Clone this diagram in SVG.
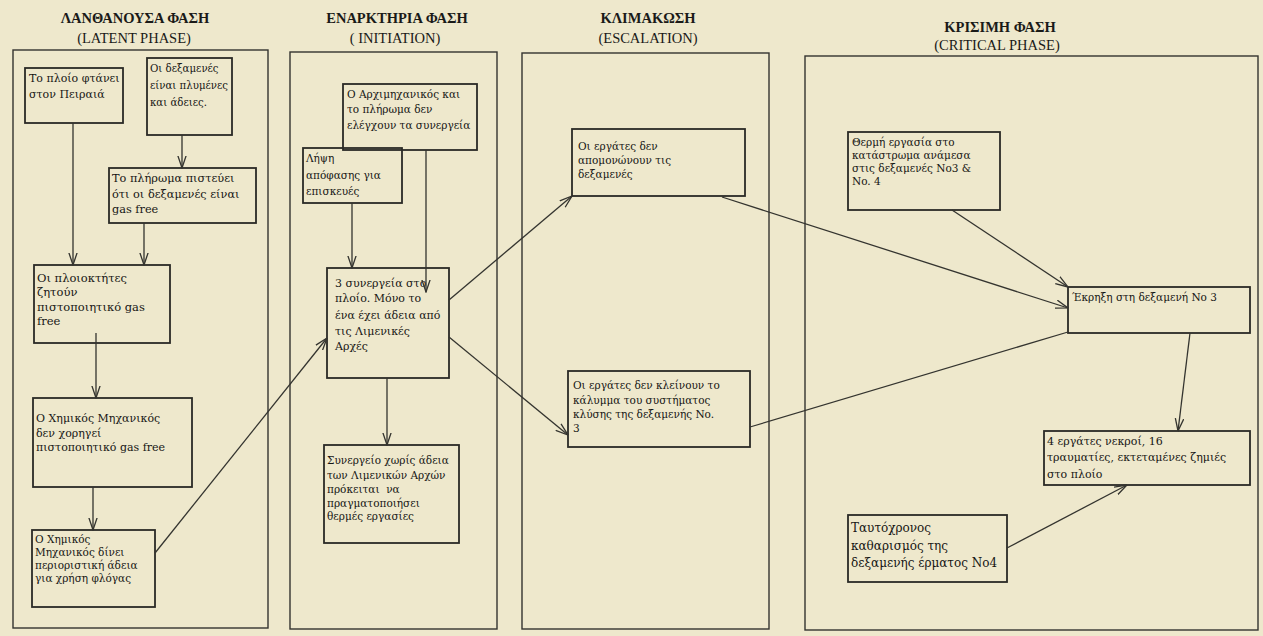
<svg xmlns="http://www.w3.org/2000/svg" width="1263" height="636" viewBox="0 0 1263 636">
  <defs>
    <style>
      .bg { fill: #eee8cc; }
      .col { fill: none; stroke: #34342f; stroke-width: 1.4; }
      .box { fill: none; stroke: #2a2a26; stroke-width: 1.8; }
      .hd { font-family: "Liberation Serif", serif; font-size: 14.5px; font-weight: bold; fill: #1a1a18; text-anchor: middle; }
      .hs { font-family: "Liberation Serif", serif; font-size: 14.5px; fill: #1a1a18; text-anchor: middle; }
      .t { font-family: "DejaVu Serif", serif; font-size: 10.5px; fill: #161614; white-space: pre; }
      .link { fill: none; stroke: #34342f; stroke-width: 1.3; }
      .arr { marker-end: url(#head); }
    </style>
    <marker id="head" viewBox="0 0 13 10" refX="12.5" refY="5" markerWidth="13" markerHeight="10" orient="auto" markerUnits="userSpaceOnUse">
      <path d="M0,0.8 L12.5,5 L0,9.2" fill="none" stroke="#34342f" stroke-width="1.3"/>
    </marker>
  </defs>

  <rect class="bg" x="0" y="0" width="1263" height="636"/>

  <!-- phase columns -->
  <g id="phase-latent">
    <text class="hd" x="135" y="23">ΛΑΝΘΑΝΟΥΣΑ ΦΑΣΗ</text>
    <text class="hs" x="134" y="43">(LATENT PHASE)</text>
    <rect class="col" x="13" y="50" width="255" height="578"/>
  </g>
  <g id="phase-initiation">
    <text class="hd" x="397" y="23">ΕΝΑΡΚΤΗΡΙΑ ΦΑΣΗ</text>
    <text class="hs" x="395" y="43">( INITIATION)</text>
    <rect class="col" x="290" y="52" width="207" height="577"/>
  </g>
  <g id="phase-escalation">
    <text class="hd" x="648" y="23">ΚΛΙΜΑΚΩΣΗ</text>
    <text class="hs" x="648" y="43">(ESCALATION)</text>
    <rect class="col" x="522" y="53" width="247" height="576"/>
  </g>
  <g id="phase-critical">
    <text class="hd" x="1000" y="32">ΚΡΙΣΙΜΗ ΦΑΣΗ</text>
    <text class="hs" x="997" y="50">(CRITICAL PHASE)</text>
    <rect class="col" x="805" y="56" width="453" height="574"/>
  </g>

  <!-- latent phase nodes -->
  <g id="n-ship-arrives">
    <rect class="box" x="25" y="68" width="98" height="55"/>
    <text class="t" x="29" y="82" style="font-size:11px">Το πλοίο φτάνει</text>
    <text class="t" x="29" y="98" style="font-size:11px">στον Πειραιά</text>
  </g>
  <g id="n-tanks-washed">
    <rect class="box" x="147" y="58" width="85" height="77"/>
    <text class="t" x="150" y="72" style="font-size:10.2px">Οι δεξαμενές</text>
    <text class="t" x="150" y="89" style="font-size:10.2px">είναι πλυμένες</text>
    <text class="t" x="150" y="106" style="font-size:10.2px">και άδειες.</text>
  </g>
  <g id="n-crew-believes">
    <rect class="box" x="109" y="168" width="147" height="55"/>
    <text class="t" x="112" y="182" style="font-size:11.3px">Το πλήρωμα πιστεύει</text>
    <text class="t" x="112" y="198" style="font-size:11.3px">ότι οι δεξαμενές είναι</text>
    <text class="t" x="112" y="213" style="font-size:11.3px">gas free</text>
  </g>
  <g id="n-owners-request">
    <rect class="box" x="34" y="265" width="136" height="78"/>
    <text class="t" x="37" y="282" style="font-size:11.5px">Οι πλοιοκτήτες</text>
    <text class="t" x="37" y="296" style="font-size:11.5px">ζητούν</text>
    <text class="t" x="37" y="311" style="font-size:11.5px">πιστοποιητικό gas</text>
    <text class="t" x="37" y="325" style="font-size:11.5px">free</text>
  </g>
  <g id="n-no-certificate">
    <rect class="box" x="33" y="398" width="159" height="89"/>
    <text class="t" x="36" y="422" style="font-size:11px">Ο Χημικός Μηχανικός</text>
    <text class="t" x="36" y="437" style="font-size:11px">δεν χορηγεί</text>
    <text class="t" x="36" y="451" style="font-size:11px">πιστοποιητικό gas free</text>
  </g>
  <g id="n-restricted-permit">
    <rect class="box" x="32" y="530" width="123" height="77"/>
    <text class="t" x="35" y="543">Ο Χημικός</text>
    <text class="t" x="35" y="556">Μηχανικός δίνει</text>
    <text class="t" x="35" y="569">περιοριστική άδεια</text>
    <text class="t" x="35" y="582">για χρήση φλόγας</text>
  </g>

  <!-- initiation nodes -->
  <g id="n-no-supervision">
    <rect class="box" x="343" y="84" width="134" height="66"/>
    <text class="t" x="347" y="98">Ο Αρχιμηχανικός και</text>
    <text class="t" x="347" y="113">το πλήρωμα δεν</text>
    <text class="t" x="347" y="129">ελέγχουν τα συνεργεία</text>
  </g>
  <g id="n-repair-decision">
    <rect class="box" x="303" y="148" width="99" height="55"/>
    <text class="t" x="306" y="162">Λήψη</text>
    <text class="t" x="306" y="179">απόφασης για</text>
    <text class="t" x="306" y="195">επισκευές</text>
  </g>
  <g id="n-three-contractors">
    <rect class="box" x="327" y="268" width="122" height="110"/>
    <text class="t" x="335" y="287" style="font-size:11px">3 συνεργεία στο</text>
    <text class="t" x="335" y="302" style="font-size:11px">πλοίο. Μόνο το</text>
    <text class="t" x="335" y="319" style="font-size:11px">ένα έχει άδεια από</text>
    <text class="t" x="335" y="335" style="font-size:11px">τις Λιμενικές</text>
    <text class="t" x="335" y="350" style="font-size:11px">Αρχές</text>
  </g>
  <g id="n-unlicensed-contractor">
    <rect class="box" x="324" y="445" width="135" height="98"/>
    <text class="t" x="327" y="464">Συνεργείο χωρίς άδεια</text>
    <text class="t" x="327" y="479">των Λιμενικών Αρχών</text>
    <text class="t" x="327" y="493">πρόκειται  να</text>
    <text class="t" x="327" y="507">πραγματοποιήσει</text>
    <text class="t" x="327" y="520">θερμές εργασίες</text>
  </g>

  <!-- escalation nodes -->
  <g id="n-tanks-not-isolated">
    <rect class="box" x="572" y="129" width="173" height="67"/>
    <text class="t" x="578" y="150">Οι εργάτες δεν</text>
    <text class="t" x="578" y="164">απομονώνουν τις</text>
    <text class="t" x="578" y="178">δεξαμενές</text>
  </g>
  <g id="n-cover-open">
    <rect class="box" x="568" y="371" width="182" height="76"/>
    <text class="t" x="573" y="389">Οι εργάτες δεν κλείνουν το</text>
    <text class="t" x="573" y="404">κάλυμμα του συστήματος</text>
    <text class="t" x="573" y="418">κλύσης της δεξαμενής No.</text>
    <text class="t" x="573" y="432">3</text>
  </g>

  <!-- critical phase nodes -->
  <g id="n-hot-work">
    <rect class="box" x="848" y="132" width="152" height="78"/>
    <text class="t" x="852" y="146">Θερμή εργασία στο</text>
    <text class="t" x="852" y="159">κατάστρωμα ανάμεσα</text>
    <text class="t" x="852" y="172">στις δεξαμενές No3 &amp;</text>
    <text class="t" x="852" y="185">No. 4</text>
  </g>
  <g id="n-explosion">
    <rect class="box" x="1068" y="287" width="182" height="46"/>
    <text class="t" x="1072" y="301">Έκρηξη στη δεξαμενή No 3</text>
  </g>
  <g id="n-casualties">
    <rect class="box" x="1044" y="431" width="206" height="54"/>
    <text class="t" x="1047" y="445" style="font-size:11px">4 εργάτες νεκροί, 16</text>
    <text class="t" x="1047" y="461" style="font-size:11px">τραυματίες, εκτεταμένες ζημιές</text>
    <text class="t" x="1047" y="478" style="font-size:11px">στο πλοίο</text>
  </g>
  <g id="n-ballast-cleaning">
    <rect class="box" x="848" y="515" width="159" height="67"/>
    <text class="t" x="851" y="532" style="font-size:12px">Ταυτόχρονος</text>
    <text class="t" x="851" y="550" style="font-size:12px">καθαρισμός της</text>
    <text class="t" x="851" y="567" style="font-size:12px">δεξαμενής έρματος No4</text>
  </g>

  <!-- connectors -->
  <g id="connectors">
    <line class="link arr" x1="73" y1="123" x2="73" y2="265"/>
    <line class="link arr" x1="182" y1="135" x2="182" y2="168"/>
    <line class="link arr" x1="144" y1="223" x2="144" y2="265"/>
    <line class="link arr" x1="96" y1="333" x2="96" y2="398"/>
    <line class="link arr" x1="93" y1="487" x2="93" y2="530"/>
    <line class="link arr" x1="155" y1="553" x2="327" y2="338"/>
    <line class="link arr" x1="352" y1="203" x2="352" y2="268"/>
    <line class="link arr" x1="426" y1="150" x2="426" y2="292"/>
    <line class="link arr" x1="387" y1="378" x2="387" y2="445"/>
    <line class="link arr" x1="449" y1="300" x2="572" y2="196"/>
    <line class="link arr" x1="449" y1="337" x2="568" y2="435"/>
    <line class="link arr" x1="722" y1="197" x2="1068" y2="308"/>
    <line class="link" x1="750" y1="427" x2="1068" y2="332"/>
    <line class="link arr" x1="952" y1="210" x2="1068" y2="287"/>
    <line class="link arr" x1="1190" y1="333" x2="1178" y2="431"/>
    <line class="link arr" x1="1007" y1="548" x2="1127" y2="485"/>
  </g>
</svg>
